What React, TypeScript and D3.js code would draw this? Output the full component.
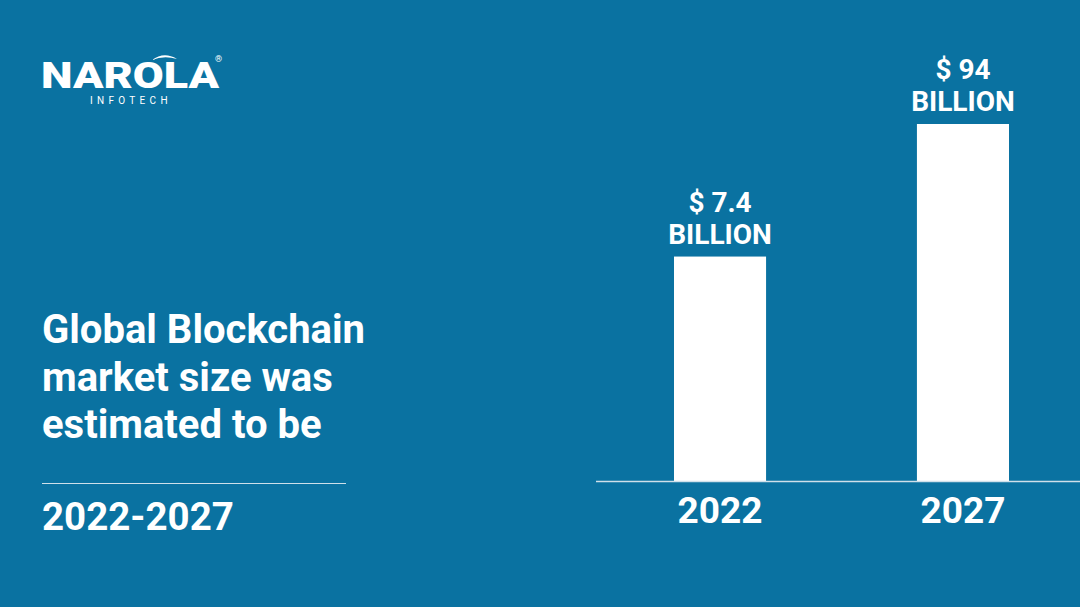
import { useEffect, useRef } from "react";
import * as d3 from "d3";

const years = ["2022", "2027"];
const marketSize = [7.4, 94]; // USD billion
const valueLabels = ["$ 7.4", "$ 94"];
const unitLabel = "BILLION";
const titleLines = ["Global Blockchain", "market size was", "estimated to be"];
const periodLabel = "2022-2027";

const W = 1080;
const H = 607;
const BG = "#0a72a1";
const FONT = "Roboto, 'Noto Sans', sans-serif";

export default function App() {
  const ref = useRef<SVGSVGElement>(null);

  useEffect(() => {
    if (!ref.current) return;
    const svg = d3.select(ref.current);
    svg.selectAll("*").remove();

    svg.append("rect").attr("width", W).attr("height", H).attr("fill", BG);

    // logo
    const logo = svg.append("g").attr("fill", "#fff").attr("font-family", FONT);
    logo
      .append("text")
      .attr("x", 41)
      .attr("y", 88)
      .attr("font-size", 37)
      .attr("font-weight", 900)
      .attr("textLength", 178)
      .attr("lengthAdjust", "spacingAndGlyphs")
      .text("NAROLA");
    logo
      .append("path")
      .attr("d", "M152,60 Q164,51 177,59 Q164,55 152,60 Z")
      .attr("fill", "#fff");
    logo
      .append("text")
      .attr("x", 215)
      .attr("y", 62)
      .attr("font-size", 9)
      .text("®");
    logo
      .append("text")
      .attr("x", 90)
      .attr("y", 104)
      .attr("font-size", 10)
      .attr("letter-spacing", 4.3)
      .text("INFOTECH");

    // left title
    const left = svg.append("g").attr("fill", "#fff").attr("font-family", FONT).attr("font-weight", 700);
    left
      .selectAll("text.title")
      .data(titleLines)
      .enter()
      .append("text")
      .attr("class", "title")
      .attr("x", 42)
      .attr("y", (_, i) => 343 + i * 47.5)
      .attr("font-size", 40)
      .text((d) => d);
    left
      .append("line")
      .attr("x1", 42)
      .attr("x2", 346)
      .attr("y1", 483.5)
      .attr("y2", 483.5)
      .attr("stroke", "#cfe0ea")
      .attr("stroke-width", 1);
    left
      .append("text")
      .attr("x", 42)
      .attr("y", 530)
      .attr("font-size", 38.5)
      .text(periodLabel);

    // chart
    const x = d3.scaleBand<string>().domain(years).range([674, 1009]).paddingInner(0.621).paddingOuter(0);
    const y = d3.scaleLog().domain([0.1, 94]).range([481, 124]);

    const chart = svg.append("g");
    chart
      .selectAll("rect.bar")
      .data(years)
      .enter()
      .append("rect")
      .attr("class", "bar")
      .attr("x", (d) => x(d)!)
      .attr("width", x.bandwidth())
      .attr("y", (_, i) => y(marketSize[i]))
      .attr("height", (_, i) => y(0.1) - y(marketSize[i]))
      .attr("fill", "#fff");

    chart
      .append("line")
      .attr("x1", 596)
      .attr("x2", W)
      .attr("y1", y(0.1) + 0.5)
      .attr("y2", y(0.1) + 0.5)
      .attr("stroke", "#cfe0ea")
      .attr("stroke-width", 1.5);

    const labels = chart.append("g").attr("fill", "#fff").attr("font-family", FONT).attr("font-weight", 700).attr("text-anchor", "middle");
    labels
      .selectAll("text.val")
      .data(years)
      .enter()
      .append("text")
      .attr("class", "val")
      .attr("x", (d) => x(d)! + x.bandwidth() / 2)
      .attr("y", (_, i) => y(marketSize[i]) - 45)
      .attr("font-size", 28)
      .text((_, i) => valueLabels[i]);
    labels
      .selectAll("text.unit")
      .data(years)
      .enter()
      .append("text")
      .attr("class", "unit")
      .attr("x", (d) => x(d)! + x.bandwidth() / 2)
      .attr("y", (_, i) => y(marketSize[i]) - 13)
      .attr("font-size", 28)
      .text(unitLabel);

    // x axis labels
    labels
      .selectAll("text.year")
      .data(years)
      .enter()
      .append("text")
      .attr("class", "year")
      .attr("x", (d) => x(d)! + x.bandwidth() / 2)
      .attr("y", 523)
      .attr("font-size", 37)
      .text((d) => d);
  }, []);

  return (
    <div style={{ position: "absolute", left: 0, top: 0 }}>
      <svg ref={ref} width={W} height={H} style={{ display: "block" }}></svg>
    </div>
  );
}
